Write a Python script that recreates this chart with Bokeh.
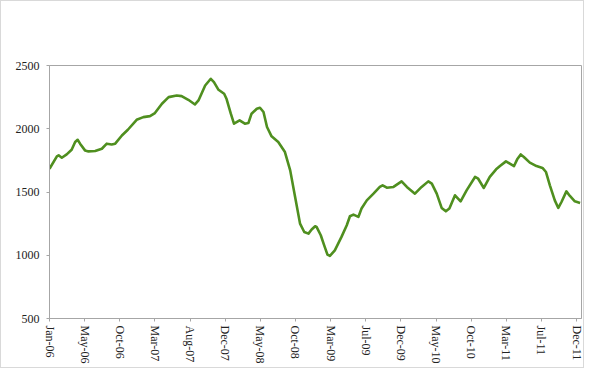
import math
from bokeh.plotting import figure
from bokeh.models import Range1d, FixedTicker
from bokeh.embed import file_html
from bokeh.resources import INLINE

# trading-day index and index level
days = [0, 21, 26, 35, 49, 63, 73, 80, 87, 101,
        111, 130, 149, 163, 177, 187, 206, 223, 248, 267,
        286, 300, 320, 339, 362, 376, 395, 414, 424, 443,
        459, 468, 481, 497, 504, 516, 525, 541, 556, 566,
        575, 590, 599, 609, 619, 632, 651, 670, 685, 699,
        713, 725, 737, 746, 756, 760, 772, 781, 791, 798,
        812, 831, 846, 855, 865, 879, 888, 903, 922, 940,
        948, 960, 979, 1002, 1017, 1040, 1059, 1078, 1088, 1102,
        1116, 1128, 1138, 1154, 1170, 1187, 1211, 1220, 1236, 1253,
        1271, 1282, 1299, 1310, 1322, 1331, 1341, 1350, 1367, 1386,
        1403, 1413, 1424, 1438, 1448, 1457, 1471, 1481, 1495, 1510]
values = [1684, 1782, 1790, 1771, 1797, 1834, 1895, 1913, 1882, 1829,
          1821, 1824, 1842, 1882, 1876, 1882, 1947, 1992, 2071, 2092,
          2100, 2124, 2198, 2250, 2263, 2258, 2229, 2192, 2224, 2342,
          2395, 2369, 2308, 2277, 2235, 2119, 2040, 2066, 2040, 2045,
          2119, 2158, 2166, 2132, 2014, 1940, 1895, 1816, 1671, 1461,
          1250, 1184, 1171, 1203, 1229, 1224, 1158, 1084, 1005, 995,
          1039, 1145, 1237, 1308, 1321, 1303, 1369, 1434, 1487, 1540,
          1553, 1534, 1540, 1584, 1540, 1487, 1540, 1584, 1566, 1487,
          1374, 1347, 1369, 1474, 1426, 1513, 1619, 1605, 1532, 1619,
          1679, 1705, 1742, 1724, 1705, 1758, 1797, 1777, 1732, 1705,
          1690, 1658, 1553, 1434, 1374, 1421, 1505, 1469, 1426, 1413]

tick_days = [0, 100, 200, 300, 400, 500, 600, 700, 800, 900,
             1000, 1100, 1200, 1300, 1400, 1500]
tick_labels = ["Jan-06", "May-06", "Oct-06", "Mar-07", "Aug-07", "Dec-07",
               "May-08", "Oct-08", "Mar-09", "Jul-09", "Dec-09", "May-10",
               "Oct-10", "Mar-11", "Jul-11", "Dec-11"]
y_ticks = [500, 1000, 1500, 2000, 2500]

FONT = "Liberation Serif"
GREY = "#a6a6a6"

p = figure(width=584, height=368, output_backend="svg", toolbar_location=None,
           x_range=Range1d(0, 1514), y_range=Range1d(500, 2500),
           min_border_left=48, min_border_right=4,
           min_border_top=64, min_border_bottom=51)
p.styles = {"border": "1px solid #d9d9d9", "box-sizing": "border-box"}

p.line(days, values, line_color="#4f8f1f", line_width=2.6, line_join="round")

p.xgrid.visible = False
p.ygrid.visible = False
p.outline_line_color = GREY
p.outline_line_width = 1
p.background_fill_color = "white"
p.border_fill_color = "white"

xa = p.xaxis[0]
xa.ticker = FixedTicker(ticks=tick_days)
xa.major_label_overrides = {d: l for d, l in zip(tick_days, tick_labels)}
xa.major_label_orientation = -math.pi / 2
xa.minor_tick_line_color = None
xa.major_tick_in = 0
xa.major_tick_out = 3
xa.axis_line_color = GREY
xa.major_tick_line_color = GREY
xa.major_label_text_font = FONT
xa.major_label_text_font_size = "12px"
xa.major_label_text_color = "#222222"
xa.major_label_standoff = 4

ya = p.yaxis[0]
ya.ticker = FixedTicker(ticks=y_ticks)
ya.minor_tick_line_color = None
ya.major_tick_in = 0
ya.major_tick_out = 3
ya.axis_line_color = GREY
ya.major_tick_line_color = GREY
ya.major_label_text_font = FONT
ya.major_label_text_font_size = "12px"
ya.major_label_text_color = "#222222"
ya.major_label_standoff = 7

open("out.html", "w").write(file_html(p, INLINE))
